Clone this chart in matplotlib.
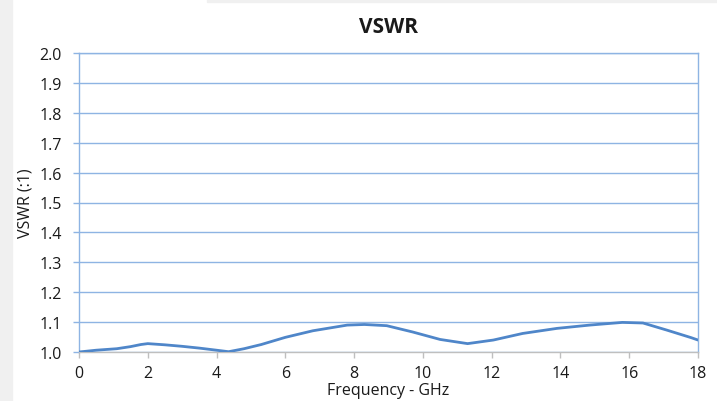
import matplotlib
matplotlib.use("Agg")
import matplotlib.pyplot as plt
from matplotlib.patches import Rectangle

# VSWR readings
freq_ghz = [0, 0.5, 1.1, 1.5, 1.8, 2.0, 2.5, 3.0, 3.5, 4.0, 4.35, 4.8, 5.3, 6.0,
            6.8, 7.8, 8.3, 8.95, 9.7, 10.5, 11.3, 12.05, 12.9, 13.9, 14.85,
            15.8, 16.4, 17.1, 17.8, 18.0]
vswr = [1.000, 1.006, 1.011, 1.018, 1.025, 1.028, 1.024, 1.019, 1.013, 1.006,
        1.001, 1.011, 1.025, 1.049, 1.071, 1.090, 1.092, 1.088, 1.067, 1.042,
        1.028, 1.040, 1.062, 1.079, 1.090, 1.099, 1.097, 1.073, 1.048, 1.040]
x_ticks = [0, 2, 4, 6, 8, 10, 12, 14, 16, 18]
y_ticks = [1.0, 1.1, 1.2, 1.3, 1.4, 1.5, 1.6, 1.7, 1.8, 1.9, 2.0]

plt.rcParams["font.family"] = ["Open Sans", "DejaVu Sans"]

GRID = "#8eb4e3"
LINE = "#4f86c9"
GREY = "#bfbfbf"
TEXT = "#1a1a1a"

fig = plt.figure(figsize=(7.17, 4.02), dpi=100)
# light grey strips at the left and top edges of the screenshot
fig.patches.append(Rectangle((0, 0), 12 / 717, 1, transform=fig.transFigure,
                             color="#f0f0f0", zorder=0))
fig.patches.append(Rectangle((207 / 717, 1 - 3 / 402), 1, 3 / 402,
                             transform=fig.transFigure, color="#f0f0f0", zorder=0))

ax = fig.add_axes([79 / 717, 49 / 402, 619 / 717, 299 / 402])
ax.plot(freq_ghz, vswr, color=LINE, lw=2.0, solid_capstyle="round",
        solid_joinstyle="round", zorder=3)

ax.set_xlim(0, 18)
ax.set_ylim(1.0, 2.0)
ax.set_xticks(x_ticks)
ax.set_yticks(y_ticks)
ax.set_yticklabels([f"{v:.1f}" for v in y_ticks])
ax.yaxis.grid(True, color=GRID, lw=1.0)
ax.set_axisbelow(True)

for side in ("left", "right", "top"):
    ax.spines[side].set_color(GRID)
    ax.spines[side].set_linewidth(1.0)
ax.spines["bottom"].set_color(GREY)
ax.spines["bottom"].set_linewidth(1.0)

ax.tick_params(axis="y", direction="out", length=4.5, width=1.0, color=GRID,
               pad=8, labelsize=11.5, labelcolor=TEXT)
ax.tick_params(axis="x", direction="out", length=4.5, width=1.0, color=GREY,
               pad=5, labelsize=11.5, labelcolor=TEXT)

ax.set_title("VSWR", fontsize=15, fontweight="bold", pad=15, color=TEXT)
ax.set_xlabel("Frequency - GHz", fontsize=11.5, labelpad=0.5, color=TEXT)
ax.set_ylabel("VSWR (:1)", fontsize=11.5, labelpad=4, color=TEXT)

fig.savefig("out.png", dpi=100)
